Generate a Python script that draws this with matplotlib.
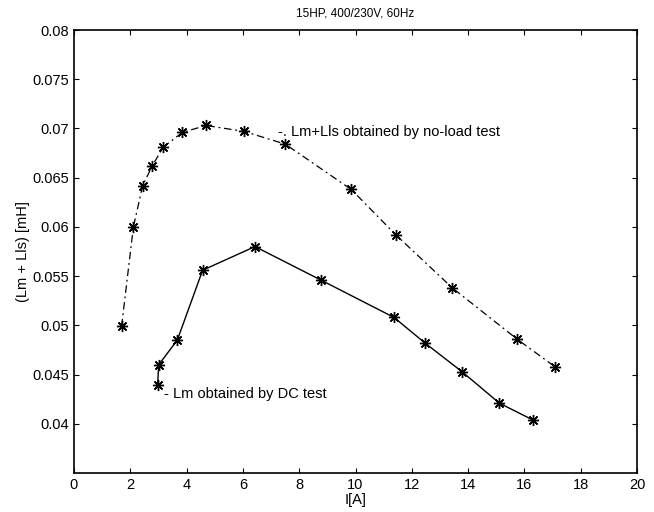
import matplotlib
matplotlib.use("Agg")
import matplotlib.pyplot as plt
from matplotlib.ticker import FormatStrFormatter

plt.rcParams['font.family'] = ['Liberation Sans', 'DejaVu Sans']

# No-load test: Lm + Lls
noload_I = [1.69, 2.11, 2.44, 2.78, 3.17, 3.85, 4.69, 6.04, 7.51, 9.85, 11.43, 13.44, 15.74, 17.08]
noload_L = [0.0499, 0.0600, 0.0642, 0.0662, 0.0681, 0.0696, 0.0703, 0.0697, 0.0684, 0.0638, 0.0592, 0.0538, 0.0486, 0.0458]

# DC test: Lm
dc_I = [2.97, 3.01, 3.67, 4.57, 6.43, 8.77, 11.37, 12.47, 13.78, 15.11, 16.29]
dc_L = [0.0439, 0.0460, 0.0485, 0.0556, 0.0580, 0.0546, 0.0508, 0.0482, 0.0453, 0.0421, 0.0404]

title = "15HP, 400/230V, 60Hz"
xlabel = "I[A]"
ylabel = "(Lm + Lls) [mH]"
label_noload = "-. Lm+Lls obtained by no-load test"
label_dc = "- Lm obtained by DC test"
xticks = list(range(0, 21, 2))
yticks = [0.04, 0.045, 0.05, 0.055, 0.06, 0.065, 0.07, 0.075, 0.08]

fig = plt.figure(figsize=(6.54, 5.12), dpi=100)
ax = fig.add_axes([74/654, 39/512, 563/654, 443/512])

ax.plot(noload_I, noload_L, color='black', linestyle=(0, (6, 3, 1.5, 3)), linewidth=0.9,
        marker=(8, 2, 0), markersize=8, markeredgewidth=1.0)
ax.plot(dc_I, dc_L, color='black', linestyle='-', linewidth=1.0,
        marker=(8, 2, 0), markersize=8, markeredgewidth=1.0)

ax.text(7.25, 0.0696, label_noload, fontsize=10.5, va='center', ha='left')
ax.text(3.2, 0.0430, label_dc, fontsize=10.5, va='center', ha='left')

ax.set_xlim(0, 20)
ax.set_ylim(0.035, 0.08)
ax.set_xticks(xticks)
ax.set_yticks(yticks)
ax.yaxis.set_major_formatter(FormatStrFormatter('%g'))
ax.tick_params(direction='in', top=True, right=True, labelsize=10.5, length=3.5, width=0.8)
for s in ax.spines.values():
    s.set_linewidth(1.2)

ax.set_xlabel(xlabel, fontsize=10.5, labelpad=1)
ax.set_ylabel(ylabel, fontsize=10.5, labelpad=2)
fig.text(0.5 * (74 + 637) / 654, 1 - 14/512, title, fontsize=8.5, ha='center', va='center')

fig.savefig("out.png", dpi=100)
